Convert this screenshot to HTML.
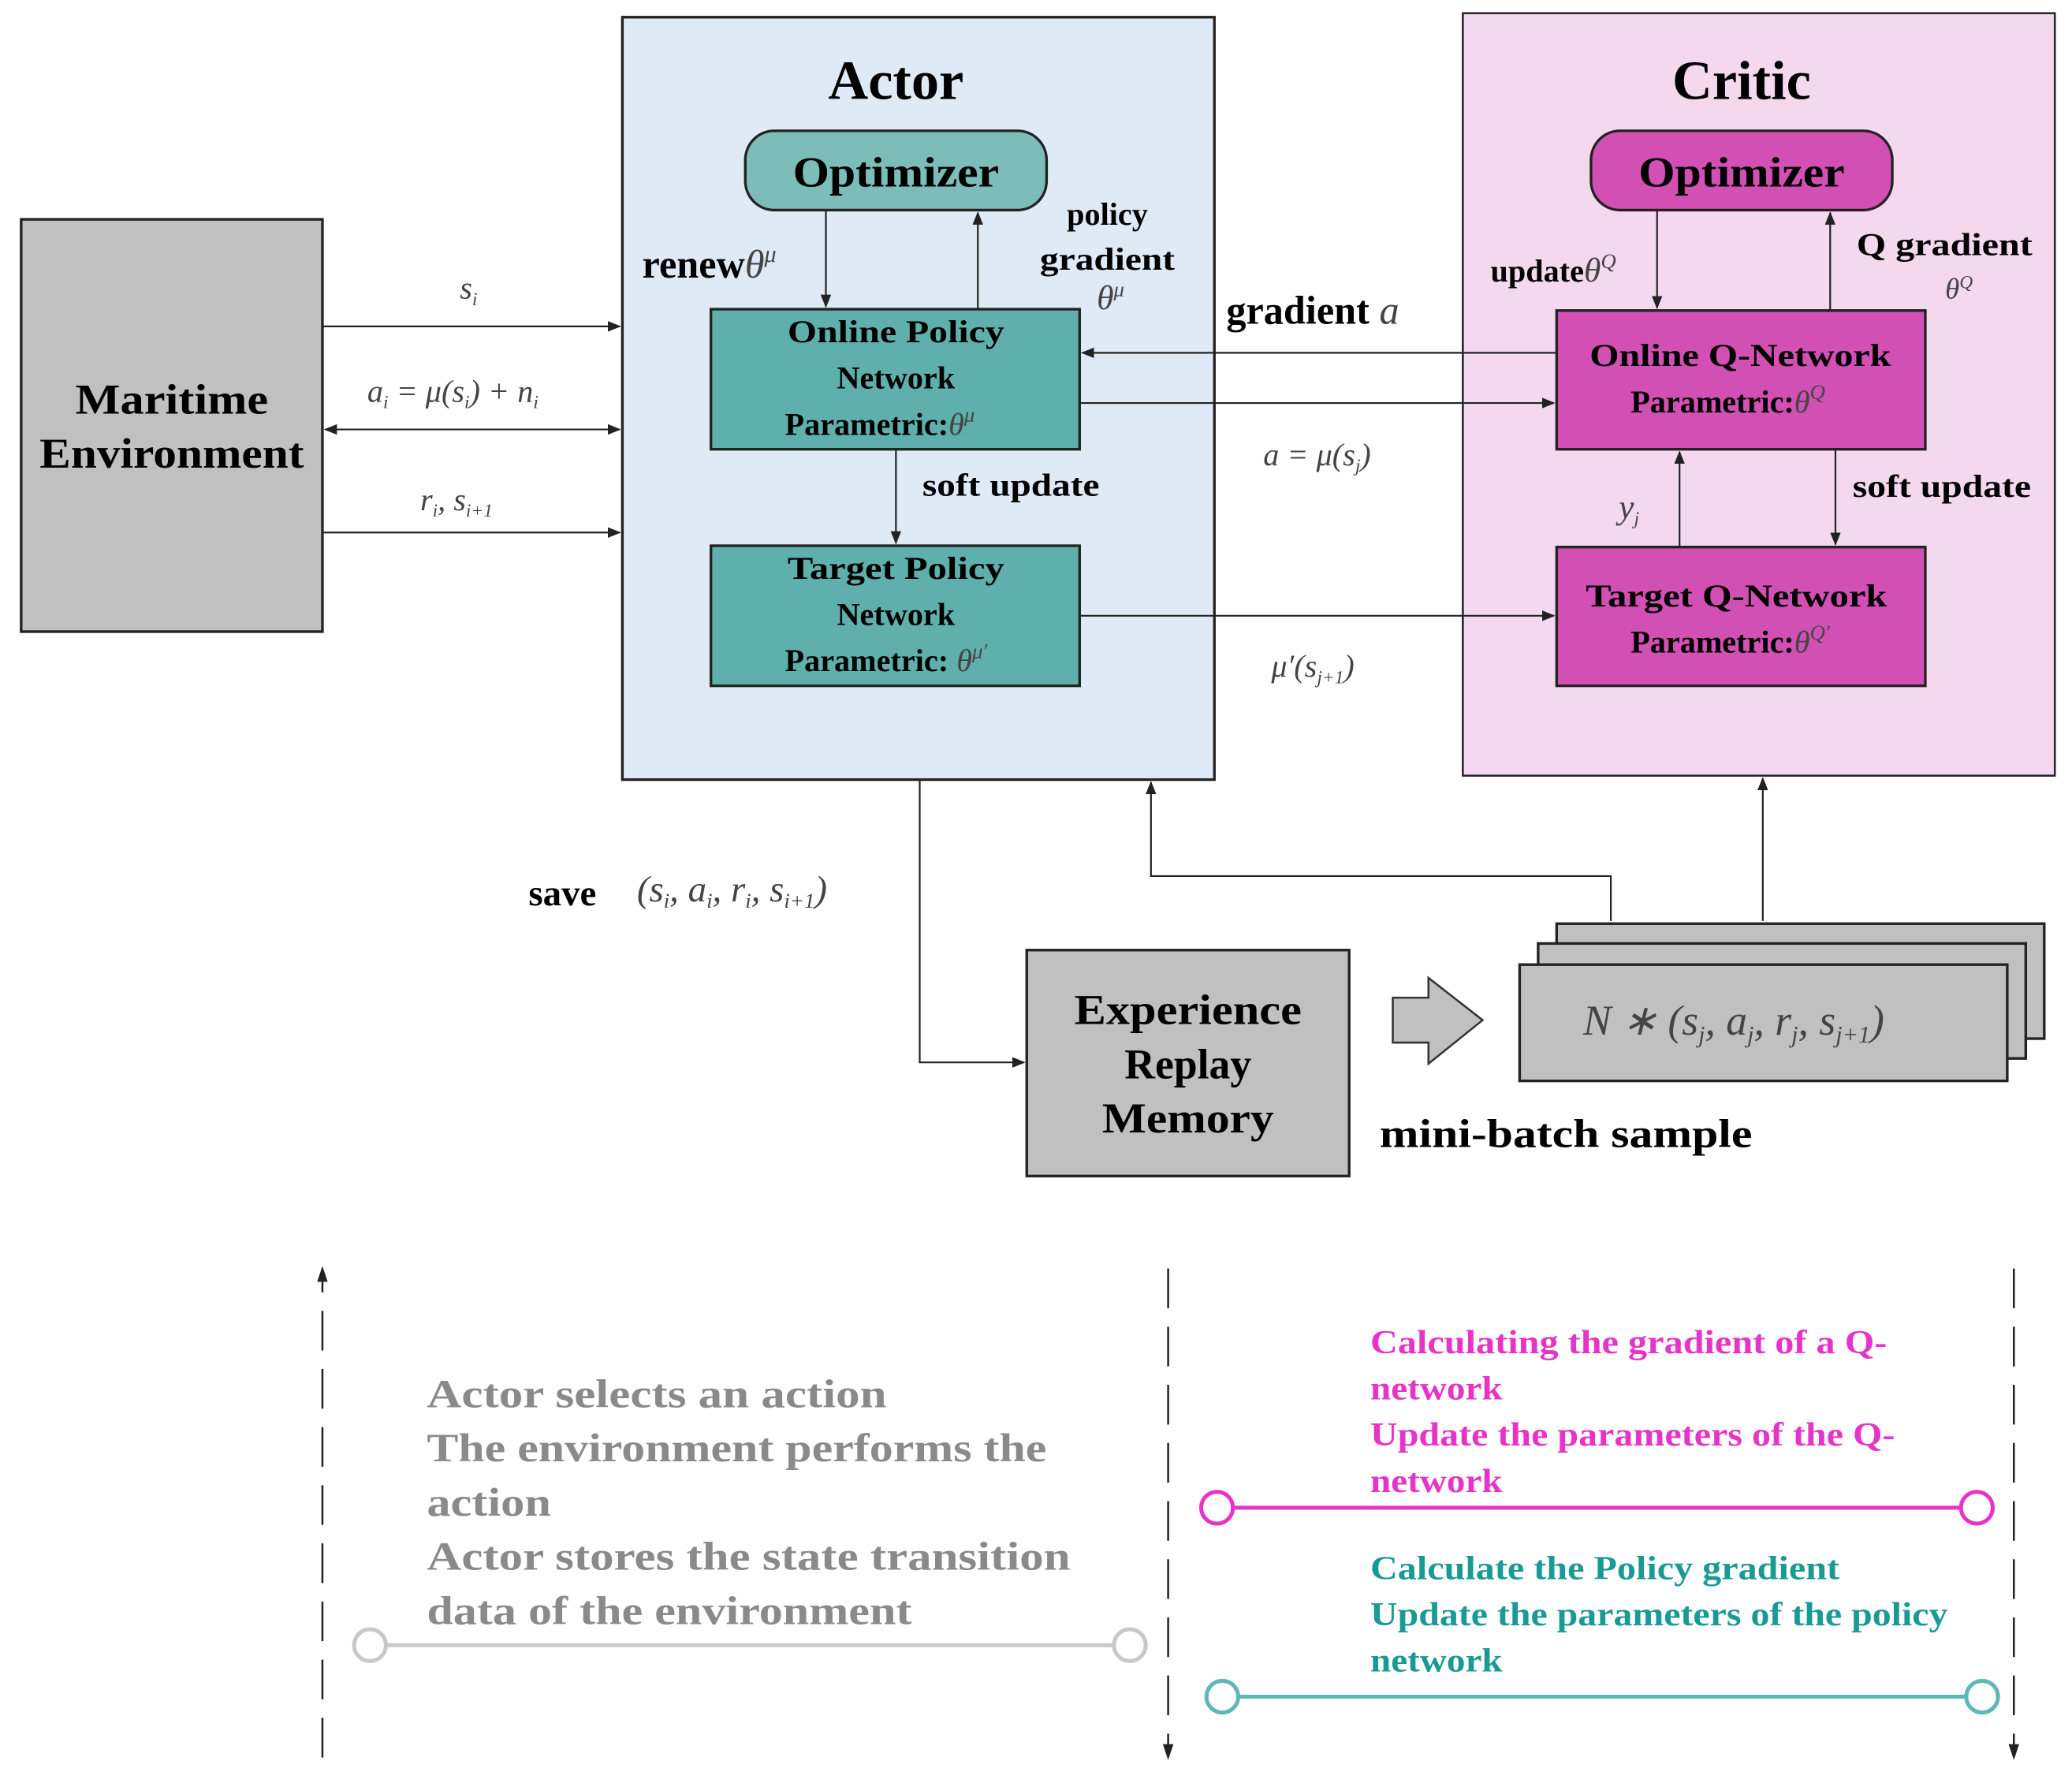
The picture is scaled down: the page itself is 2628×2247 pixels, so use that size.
<!DOCTYPE html>
<html><head><meta charset="utf-8"><style>
html,body{margin:0;padding:0;background:#fff}
svg{display:block}
text{font-family:"Liberation Serif",serif;font-weight:bold}
.m{font-style:italic;font-weight:normal;fill:#444}
</style></head><body>
<svg width="2628" height="2247" viewBox="0 0 1568 1341" preserveAspectRatio="none" xmlns="http://www.w3.org/2000/svg">
<defs>
<marker id="a" markerWidth="10" markerHeight="8" refX="9" refY="4" orient="auto" markerUnits="userSpaceOnUse"><path d="M0,0 L10,4 L0,8 z" fill="#222"/></marker>
<marker id="b" markerWidth="10" markerHeight="8" refX="1" refY="4" orient="auto" markerUnits="userSpaceOnUse"><path d="M10,0 L0,4 L10,8 z" fill="#222"/></marker>
</defs>
<rect x="471" y="13" width="448" height="577" fill="#deeaf5" stroke="#222" stroke-width="2"/>
<rect x="1107" y="10" width="448" height="577" fill="#f4d8ee" stroke="#222" stroke-width="1.5"/>
<rect x="16" y="166" width="228" height="312" fill="#c0c0c0" stroke="#222" stroke-width="2"/>
<text x="130" y="313" font-size="32" text-anchor="middle" textLength="146" lengthAdjust="spacingAndGlyphs">Maritime</text>
<text x="130" y="354" font-size="32" text-anchor="middle" textLength="200" lengthAdjust="spacingAndGlyphs">Environment</text>
<text x="678" y="75" font-size="42" text-anchor="middle">Actor</text>
<text x="1318" y="75" font-size="42" text-anchor="middle">Critic</text>
<rect x="564" y="99" width="228" height="60" rx="22" fill="#7cbcb9" stroke="#222" stroke-width="2"/>
<text x="678" y="141" font-size="32" text-anchor="middle" textLength="156" lengthAdjust="spacingAndGlyphs">Optimizer</text>
<rect x="1204" y="99" width="228" height="60" rx="22" fill="#d250b3" stroke="#222" stroke-width="2"/>
<text x="1318" y="141" font-size="32" text-anchor="middle" textLength="156" lengthAdjust="spacingAndGlyphs">Optimizer</text>
<rect x="538" y="234" width="279" height="106" fill="#5fb0ac" stroke="#222" stroke-width="2"/>
<text x="678" y="259" font-size="24" text-anchor="middle" textLength="164" lengthAdjust="spacingAndGlyphs">Online Policy</text>
<text x="678" y="294" font-size="24" text-anchor="middle">Network</text>
<text x="594" y="329" font-size="24">Parametric:<tspan class="m" fill="#111">θ</tspan><tspan font-size="16" dy="-10" class="m">μ</tspan></text>
<rect x="538" y="413" width="279" height="106" fill="#5fb0ac" stroke="#222" stroke-width="2"/>
<text x="678" y="438" font-size="24" text-anchor="middle" textLength="164" lengthAdjust="spacingAndGlyphs">Target Policy</text>
<text x="678" y="473" font-size="24" text-anchor="middle">Network</text>
<text x="594" y="508" font-size="24">Parametric: <tspan class="m" fill="#111">θ</tspan><tspan font-size="16" dy="-10" class="m">μ′</tspan></text>
<rect x="1178" y="235" width="279" height="105" fill="#d250b3" stroke="#222" stroke-width="2"/>
<text x="1317" y="277" font-size="24" text-anchor="middle" textLength="228" lengthAdjust="spacingAndGlyphs">Online Q-Network</text>
<text x="1234" y="312" font-size="24">Parametric:<tspan class="m" fill="#111">θ</tspan><tspan font-size="16" dy="-10" class="m">Q</tspan></text>
<rect x="1178" y="414" width="279" height="105" fill="#d250b3" stroke="#222" stroke-width="2"/>
<text x="1314" y="459" font-size="24" text-anchor="middle" textLength="228" lengthAdjust="spacingAndGlyphs">Target Q-Network</text>
<text x="1234" y="494" font-size="24">Parametric:<tspan class="m" fill="#111">θ</tspan><tspan font-size="16" dy="-10" class="m">Q′</tspan></text>
<g stroke="#222" stroke-width="1.3" fill="none">
<line x1="244" y1="247" x2="469" y2="247" marker-end="url(#a)"/>
<line x1="246" y1="325" x2="469" y2="325" marker-end="url(#a)" marker-start="url(#b)"/>
<line x1="244" y1="403" x2="469" y2="403" marker-end="url(#a)"/>
<line x1="625" y1="159" x2="625" y2="232" marker-end="url(#a)"/>
<line x1="740" y1="234" x2="740" y2="161" marker-end="url(#a)"/>
<line x1="678" y1="340" x2="678" y2="411" marker-end="url(#a)"/>
<line x1="1254" y1="159" x2="1254" y2="233" marker-end="url(#a)"/>
<line x1="1385" y1="235" x2="1385" y2="161" marker-end="url(#a)"/>
<line x1="1178" y1="267" x2="819" y2="267" marker-end="url(#a)"/>
<line x1="817" y1="305" x2="1176" y2="305" marker-end="url(#a)"/>
<line x1="817" y1="466" x2="1176" y2="466" marker-end="url(#a)"/>
<line x1="1271" y1="414" x2="1271" y2="342" marker-end="url(#a)"/>
<line x1="1389" y1="340" x2="1389" y2="412" marker-end="url(#a)"/>
<polyline points="696,590 696,804 775,804" marker-end="url(#a)"/>
<polyline points="1219,697 1219,663 871,663 871,592" marker-end="url(#a)"/>
<line x1="1334" y1="697" x2="1334" y2="589" marker-end="url(#a)"/>
</g>
<text x="486" y="210" font-size="30">renew<tspan class="m" fill="#111">θ</tspan><tspan class="m" font-size="18" dy="-12">μ</tspan></text>
<text x="838" y="170" font-size="24" text-anchor="middle">policy</text>
<text x="838" y="204" font-size="24" text-anchor="middle" textLength="102" lengthAdjust="spacingAndGlyphs">gradient</text>
<text x="830" y="234" font-size="26" class="m" fill="#111">θ<tspan font-size="16" dy="-10">μ</tspan></text>
<text x="928" y="245" font-size="30">gradient <tspan class="m">a</tspan></text>
<text x="698" y="375" font-size="24" textLength="134" lengthAdjust="spacingAndGlyphs">soft update</text>
<text x="1402" y="376" font-size="24" textLength="135" lengthAdjust="spacingAndGlyphs">soft update</text>
<text x="1128" y="213" font-size="24">update<tspan class="m" fill="#111" font-size="26">θ</tspan><tspan class="m" font-size="16" dy="-10">Q</tspan></text>
<text x="1405" y="193" font-size="24" textLength="133" lengthAdjust="spacingAndGlyphs">Q gradient</text>
<text x="1472" y="226" font-size="22" class="m">θ<tspan font-size="14" dy="-8">Q</tspan></text>
<text x="348" y="226" font-size="24" class="m">s<tspan font-size="14" dy="5">i</tspan></text>
<text x="278" y="304" font-size="24" class="m">a<tspan font-size="14" dy="5">i</tspan><tspan dy="-5"> = μ(s</tspan><tspan font-size="14" dy="5">i</tspan><tspan dy="-5">) + n</tspan><tspan font-size="14" dy="5">i</tspan></text>
<text x="318" y="386" font-size="24" class="m">r<tspan font-size="14" dy="5">i</tspan><tspan dy="-5">, s</tspan><tspan font-size="14" dy="5">i+1</tspan></text>
<text x="956" y="352" font-size="24" class="m">a = μ(s<tspan font-size="14" dy="5">j</tspan><tspan dy="-5">)</tspan></text>
<text x="1225" y="392" font-size="26" class="m">y<tspan font-size="14" dy="5">j</tspan></text>
<text x="962" y="512" font-size="24" class="m">μ′(s<tspan font-size="14" dy="5">j+1</tspan><tspan dy="-5">)</tspan></text>
<text x="400" y="685" font-size="28">save</text>
<text x="482" y="682" font-size="28" class="m">(s<tspan font-size="16" dy="5">i</tspan><tspan dy="-5">, a</tspan><tspan font-size="16" dy="5">i</tspan><tspan dy="-5">, r</tspan><tspan font-size="16" dy="5">i</tspan><tspan dy="-5">, s</tspan><tspan font-size="16" dy="5">i+1</tspan><tspan dy="-5">)</tspan></text>
<rect x="777" y="719" width="244" height="171" fill="#c0c0c0" stroke="#222" stroke-width="2"/>
<text x="899" y="775" font-size="32" text-anchor="middle" textLength="172" lengthAdjust="spacingAndGlyphs">Experience</text>
<text x="899" y="816" font-size="32" text-anchor="middle">Replay</text>
<text x="899" y="857" font-size="32" text-anchor="middle" textLength="130" lengthAdjust="spacingAndGlyphs">Memory</text>
<path d="M1054,755 L1081,755 L1081,740 L1122,772 L1081,805 L1081,789 L1054,789 z" fill="#c0c0c0" stroke="#333" stroke-width="1.5"/>
<rect x="1178" y="699" width="369" height="87" fill="#c0c0c0" stroke="#222" stroke-width="2"/>
<rect x="1164" y="714" width="369" height="87" fill="#c0c0c0" stroke="#222" stroke-width="2"/>
<rect x="1150" y="730" width="369" height="88" fill="#c0c0c0" stroke="#222" stroke-width="2"/>
<text x="1198" y="783" font-size="32" class="m">N ∗ (s<tspan font-size="18" dy="6">j</tspan><tspan dy="-6">, a</tspan><tspan font-size="18" dy="6">j</tspan><tspan dy="-6">, r</tspan><tspan font-size="18" dy="6">j</tspan><tspan dy="-6">, s</tspan><tspan font-size="18" dy="6">j+1</tspan><tspan dy="-6">)</tspan></text>
<text x="1044" y="868" font-size="30" textLength="282" lengthAdjust="spacingAndGlyphs">mini-batch sample</text>
<g stroke="#222" stroke-width="1.5" stroke-dasharray="30,14" fill="none">
<line x1="244" y1="1330" x2="244" y2="965"/>
<line x1="884" y1="960" x2="884" y2="1325"/>
<line x1="1524" y1="960" x2="1524" y2="1325"/>
</g>
<path d="M240,970 L244,958 L248,970z M880,1320 L884,1332 L888,1320z M1520,1320 L1524,1332 L1528,1320z" fill="#222"/>
<g font-size="30" fill="#8a8a8a" lengthAdjust="spacingAndGlyphs">
<text x="323" y="1065" textLength="348" lengthAdjust="spacingAndGlyphs">Actor selects an action</text>
<text x="323" y="1106" textLength="469" lengthAdjust="spacingAndGlyphs">The environment performs the</text>
<text x="323" y="1147" textLength="94" lengthAdjust="spacingAndGlyphs">action</text>
<text x="323" y="1188" textLength="487" lengthAdjust="spacingAndGlyphs">Actor stores the state transition</text>
<text x="323" y="1229" textLength="367" lengthAdjust="spacingAndGlyphs">data of the environment</text>
</g>
<line x1="292" y1="1245" x2="843" y2="1245" stroke="#c8c8c8" stroke-width="3"/>
<circle cx="280" cy="1245" r="12" fill="#fff" stroke="#c8c8c8" stroke-width="3"/>
<circle cx="855" cy="1245" r="12" fill="#fff" stroke="#c8c8c8" stroke-width="3"/>
<g font-size="25" fill="#e633c8">
<text x="1037" y="1024" textLength="391" lengthAdjust="spacingAndGlyphs">Calculating the gradient of a Q-</text>
<text x="1037" y="1059" textLength="100" lengthAdjust="spacingAndGlyphs">network</text>
<text x="1037" y="1094" textLength="397" lengthAdjust="spacingAndGlyphs">Update the parameters of the Q-</text>
<text x="1037" y="1129" textLength="100" lengthAdjust="spacingAndGlyphs">network</text>
</g>
<line x1="933" y1="1141" x2="1484" y2="1141" stroke="#e633c8" stroke-width="3"/>
<circle cx="921" cy="1141" r="12" fill="#fff" stroke="#e633c8" stroke-width="3"/>
<circle cx="1496" cy="1141" r="12" fill="#fff" stroke="#e633c8" stroke-width="3"/>
<g font-size="25" fill="#1a9a94">
<text x="1037" y="1195" textLength="355" lengthAdjust="spacingAndGlyphs">Calculate the Policy gradient</text>
<text x="1037" y="1230" textLength="437" lengthAdjust="spacingAndGlyphs">Update the parameters of the policy</text>
<text x="1037" y="1265" textLength="100" lengthAdjust="spacingAndGlyphs">network</text>
</g>
<line x1="937" y1="1284" x2="1488" y2="1284" stroke="#5fb8b4" stroke-width="3"/>
<circle cx="925" cy="1284" r="12" fill="#fff" stroke="#5fb8b4" stroke-width="3"/>
<circle cx="1500" cy="1284" r="12" fill="#fff" stroke="#5fb8b4" stroke-width="3"/>
</svg>
</body></html>
